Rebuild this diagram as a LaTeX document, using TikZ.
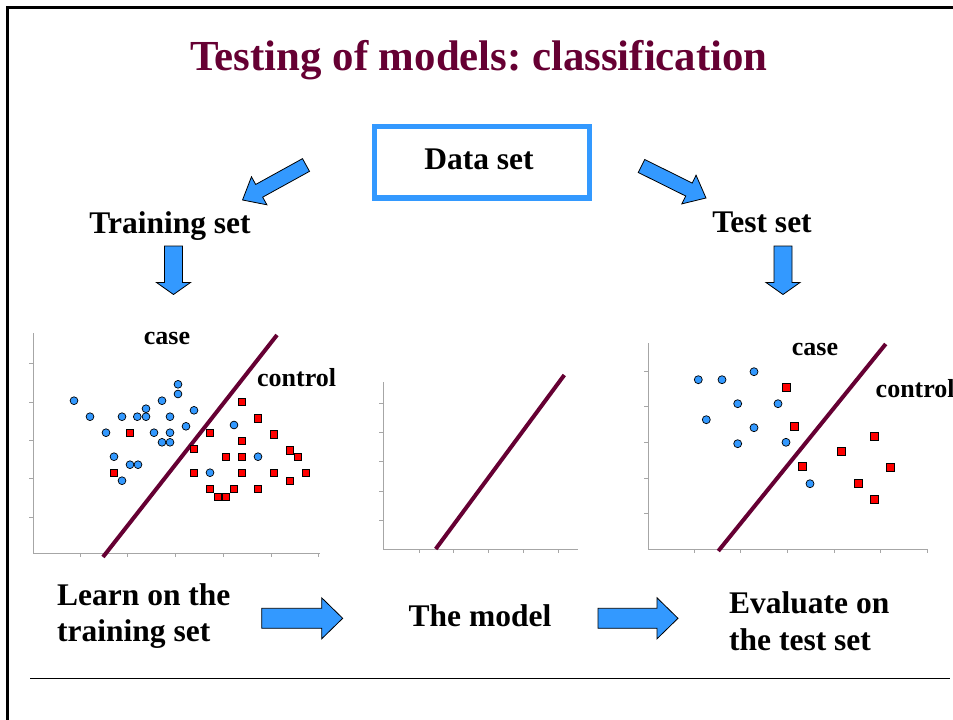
\documentclass[tikz,border=0pt]{standalone}
\usepackage{fontspec}
\setmainfont{Liberation Serif}
\frenchspacing
\definecolor{maroon}{HTML}{660033}
\definecolor{skyb}{HTML}{3399FF}
\definecolor{axgray}{HTML}{A6A6A6}
\newcommand{\blockarrow}[7]{%
  \pgfmathsetmacro\bkL{veclen((#3)-(#1),(#4)-(#2))}%
  \pgfmathsetmacro\bkA{atan2(-((#4)-(#2)),(#3)-(#1))}%
  \begin{scope}[shift={(#1,#2)},rotate=\bkA]
    \draw[barrowstyle] (0,{-(#5)/2}) -- ({\bkL-(#7)},{-(#5)/2}) -- ({\bkL-(#7)},{-(#6)/2})
      -- (\bkL,0) -- ({\bkL-(#7)},{(#6)/2}) -- ({\bkL-(#7)},{(#5)/2}) -- (0,{(#5)/2}) -- cycle;
  \end{scope}}
\begin{document}
\begin{tikzpicture}[x=1pt,y=-1pt,
  lbl/.style={font=\bfseries\fontsize{31.5}{37}\selectfont, inner sep=0pt},
  small/.style={font=\bfseries\fontsize{26}{30}\selectfont, inner sep=0pt},
  barrowstyle/.style={fill=skyb, draw=black, line width=0.8pt, line join=miter},
  axis/.style={draw=axgray, line width=0.8pt},
  sepline/.style={draw=maroon, line width=4pt},
  dot/.style={fill=skyb, draw=black, line width=0.7pt},
  sq/.style={fill=red, draw=black, line width=0.7pt}]

\useasboundingbox (0,0) rectangle (953,720);
\fill[white] (0,0) rectangle (953,720);

% frame
\draw[line width=3pt] (953,7.5) -- (7.5,7.5) -- (7.5,720);
\draw[line width=1pt] (30,678) -- (950,678);

% title
\node[anchor=base, inner sep=0pt, text=maroon, font=\bfseries\fontsize{42.8}{50}\selectfont] (title) at (479,70) {Testing of models: classification};

% data set box
\draw[draw=skyb, line width=5.5pt] (374.5,126.3) rectangle (589.5,198);
\node[lbl, anchor=base] (data) at (479,169.5) {Data set};
\node[lbl, anchor=base] (train) at (170,233) {Training set};
\node[lbl, anchor=base] (test) at (762,232.7) {Test set};

% block arrows
\blockarrow{306}{165}{242.5}{200}{14.5}{32}{19}
\blockarrow{641.5}{166}{706}{198}{14.5}{32}{19}
\blockarrow{173.5}{246}{173.5}{294.5}{18}{34}{12}
\blockarrow{783}{246}{783}{294.5}{18}{34}{12}
\blockarrow{261.7}{618.3}{342.7}{618.3}{20}{41}{21}
\blockarrow{598}{618.3}{678}{618.3}{20}{41}{21}

% bottom texts
\node[lbl, anchor=base west] (learn1) at (57,605) {Learn on the};
\node[lbl, anchor=base west] (learn2) at (57,641.5) {training set};
\node[lbl, anchor=base] (model) at (480,626) {The model};
\node[lbl, anchor=base west] (eval1) at (729,613) {Evaluate on};
\node[lbl, anchor=base west] (eval2) at (729,650) {the test set};

% ---------- left plot ----------
\draw[axis] (33,333) -- (33,553) -- (320,553);
\foreach \t in {363,402,440,478,517} \draw[axis] (29,\t) -- (33,\t);
\foreach \t in {80,127,175,223,271,318} \draw[axis] (\t,553) -- (\t,557);
\draw[sepline] (103,557) -- (277,335);
\foreach \px/\py in {74/400.7,90/416.7,106/432.7,122/416.7,137.3/416.7,146/408.7,146/416.7,
  162/400.7,178/384.3,178/394,170/416.7,154/432.7,170/432.7,162/442.3,170/442.3,186/426.3,
  194/410.3,114/456.7,130/464.7,138/464.7,122/480.7,234/425,258/456.7,210/472.7}
  \filldraw[dot] (\px,\py) circle[radius=3.9pt];
\foreach \px/\py in {130/432.7,114/472.7,194/448.7,210/432.7,242/402,258/418.3,274/434.3,
  242/440.7,226/456.7,242/456.7,290/450.3,298/456.7,194/472.7,242/472.7,274/472.7,306/472.7,
  290/480.7,210/488.7,218/496.7,226/496.7,234/488.7,258/488.7}
  \filldraw[sq] (\px-3.8,\py-3.8) rectangle (\px+3.8,\py+3.8);
\node[small, anchor=base] (case1) at (167,344) {case};
\node[small, anchor=base west] (ctrl1) at (257,386) {control};

% ---------- middle plot ----------
\draw[axis] (383,382) -- (383,549) -- (578,549);
\foreach \t in {403,432.7,461.7,491,520} \draw[axis] (379,\t) -- (383,\t);
\foreach \t in {419,453,488,523,558} \draw[axis] (\t,549) -- (\t,553);
\draw[sepline] (435.7,549) -- (564.3,375);

% ---------- right plot ----------
\draw[axis] (648,343) -- (648,549) -- (928,549);
\foreach \t in {371.7,406.7,442.7,478.3,513.3} \draw[axis] (644,\t) -- (648,\t);
\foreach \t in {694,740.7,787,834,880.7,927.3} \draw[axis] (\t,549) -- (\t,553);
\draw[sepline] (718.3,551) -- (885.7,344);
\foreach \px/\py in {698.3/379.7,722/379.7,754/371.7,737.7/403.7,778/403.7,706.3/419.7,
  754/427.7,737.7/443.7,786/442.3,810/483.7}
  \filldraw[dot] (\px,\py) circle[radius=4pt];
\foreach \px/\py in {786/387.7,794/426.3,802/466,841.7/451.7,874.3/436,890.3/467.7,
  858.3/483.7,874.3/499.7}
  \filldraw[sq] (\px-4,\py-4) rectangle (\px+4,\py+4);
\node[small, anchor=base] (case2) at (815,355) {case};
\node[small, anchor=base west] (ctrl2) at (875.5,397) {control};
\end{tikzpicture}
\end{document}
